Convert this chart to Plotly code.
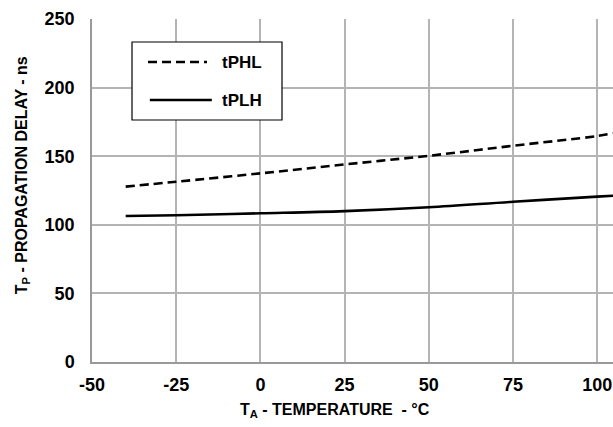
import plotly.graph_objects as go

# Data
temperature = [-40, -25, 0, 25, 50, 75, 100, 104.7]
tphl = [127.8, 131.4, 137.5, 144.0, 150.3, 157.6, 164.7, 166.7]
tplh = [106.4, 107.0, 108.4, 110.0, 112.8, 116.8, 120.5, 121.2]

x_ticks = [-50, -25, 0, 25, 50, 75, 100]
x_tick_labels = ["-50", "-25", "0", "25", "50", "75", "100"]
y_ticks = [0, 50, 100, 150, 200, 250]
series_names = ["tPHL", "tPLH"]

FONT = "Liberation Sans, Arial, sans-serif"
GRID = "#b4b4b4"
FS_TICK = 18
FS_TITLE = 16
FS_LEG = 17

fig = go.Figure()
fig.add_trace(go.Scatter(x=temperature, y=tphl, mode="lines", name=series_names[0],
                         line=dict(color="black", width=2.6, dash="9px,5px", shape="spline")))
fig.add_trace(go.Scatter(x=temperature, y=tplh, mode="lines", name=series_names[1],
                         line=dict(color="black", width=2.6, shape="spline")))

fig.update_layout(
    width=613, height=427,
    margin=dict(l=92, r=0, t=19, b=65, autoexpand=False),
    paper_bgcolor="white", plot_bgcolor="white",
    showlegend=False,
    font=dict(family=FONT, size=FS_TICK, color="black", weight="bold"),
)
fig.update_xaxes(range=[-50, 104.7], tickvals=x_ticks, ticktext=x_tick_labels,
                 showgrid=True, gridcolor=GRID, gridwidth=1.5,
                 showline=True, linecolor="#999999", linewidth=1.5, zeroline=False,
                 ticks="", ticklabelstandoff=6, automargin=False)
fig.update_yaxes(range=[0, 250], tickvals=y_ticks, showgrid=True, gridcolor=GRID, gridwidth=1.5,
                 showline=True, linecolor="#999999", linewidth=1.5, zeroline=False,
                 ticks="", ticklabelstandoff=12, automargin=False)

fig.add_annotation(text="T<sub>A</sub> - TEMPERATURE  - °C", xref="paper", yref="paper",
                   x=0.466, y=-0.14, showarrow=False, xanchor="center", yanchor="middle",
                   font=dict(size=FS_TITLE))
fig.add_annotation(text="T<sub>P</sub> - PROPAGATION DELAY - ns", xref="paper", yref="paper",
                   x=-0.134, y=0.545, showarrow=False, textangle=-90,
                   xanchor="center", yanchor="middle", font=dict(size=FS_TITLE))

# legend box drawn like the reference
fig.add_shape(type="rect", xref="paper", yref="paper", x0=0.0768, x1=0.3647, y0=0.7055, y1=0.933,
              line=dict(color="black", width=1.2), fillcolor="white", layer="above")
fig.add_shape(type="line", xref="paper", yref="paper", x0=0.1075, x1=0.2207, y0=0.8746, y1=0.8746,
              line=dict(color="black", width=2.6, dash="9px,5px"), layer="above")
fig.add_shape(type="line", xref="paper", yref="paper", x0=0.111, x1=0.230, y0=0.7638, y1=0.7638,
              line=dict(color="black", width=2.6), layer="above")
fig.add_annotation(text=series_names[0], xref="paper", yref="paper", x=0.2457, y=0.8746,
                   showarrow=False, xanchor="left", yanchor="middle", font=dict(size=FS_LEG))
fig.add_annotation(text=series_names[1], xref="paper", yref="paper", x=0.2457, y=0.7638,
                   showarrow=False, xanchor="left", yanchor="middle", font=dict(size=FS_LEG))

fig.write_html("out.html", config={"displayModeBar": False},
               post_script="document.body.style.margin='0';document.body.style.overflow='hidden';")
